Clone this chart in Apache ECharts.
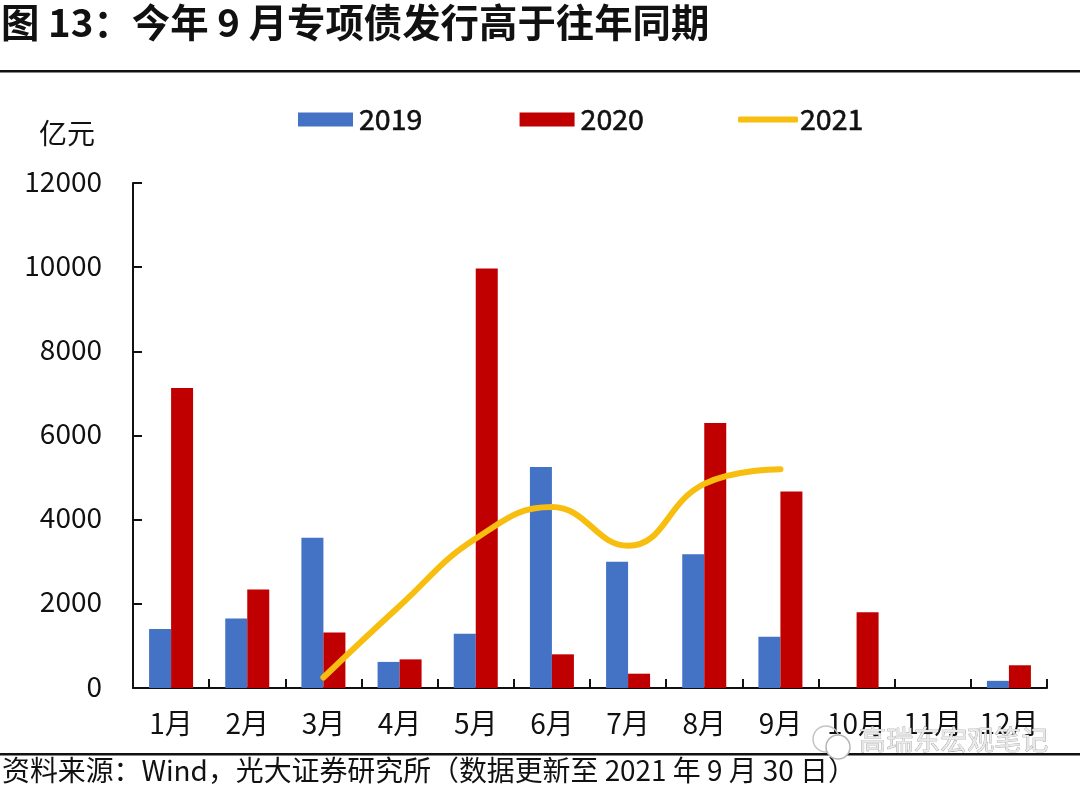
<!DOCTYPE html>
<html><head><meta charset="utf-8">
<style>html,body{margin:0;padding:0;background:#fff}#c{width:1080px;height:793px}</style>
<script src="https://cdn.jsdelivr.net/npm/echarts@6/dist/echarts.min.js"></script>
</head><body><div id="c"></div>
<script>
const months = ['1月','2月','3月','4月','5月','6月','7月','8月','9月','10月','11月','12月'];
const v2019 = [1400,1650,3570,620,1290,5250,3000,3180,1220,0,0,170];
const v2020 = [7130,2340,1320,680,9970,800,340,6300,4670,1800,0,540];
const v2021 = [null,null,250,1950,3550,4300,3380,4850,5200,null,null,null];
const titleText = '图 13：今年 9 月专项债发行高于往年同期';
const sourceText = '资料来源：Wind，光大证券研究所（数据更新至 2021 年 9 月 30 日）';
const watermark = '高瑞东宏观笔记';
const font = '"Noto Sans CJK SC"';
const chart = echarts.init(document.getElementById('c'));
const legendText = {fontFamily:font,fontSize:28.5,color:'#111',textBorderColor:'#111',textBorderWidth:0.6,padding:[0,0,0,1]};
chart.setOption({
  animation:false,
  textStyle:{fontFamily:font,color:'#111'},
  title:{text:titleText,left:-4,top:-2,textStyle:{fontFamily:font,fontSize:38.4,fontWeight:'bold',color:'#111'}},
  legend:[
    {left:293,top:100,itemWidth:55,itemHeight:14,itemGap:97,icon:'rect',textStyle:legendText,data:['2019','2020']},
    {left:733,top:100,itemWidth:60,itemHeight:6,icon:'roundRect',textStyle:{...legendText,padding:[0,0,0,-3]},data:['2021']}
  ],
  grid:{left:133,right:33,top:183,height:505},
  xAxis:{type:'category',data:months,
    axisLine:{lineStyle:{color:'#111',width:2}},
    axisTick:{show:true,inside:true,length:9,lineStyle:{color:'#111',width:2}},
    axisLabel:{fontSize:28,color:'#111',margin:21,interval:0}},
  yAxis:{type:'value',min:0,max:12000,interval:2000,name:'亿元',nameLocation:'end',nameGap:36,
    nameTextStyle:{fontSize:28,color:'#111',align:'right',padding:[0,38,0,0]},
    splitLine:{show:false},
    axisLine:{show:true,lineStyle:{color:'#111',width:2}},
    axisTick:{show:true,inside:true,length:9,lineStyle:{color:'#111',width:2}},
    axisLabel:{fontSize:28,color:'#111',margin:31,verticalAlign:'bottom',lineHeight:4,formatter:v=>String(v)}},
  series:[
    {name:'2019',type:'bar',data:v2019,barWidth:22,barGap:'0%',itemStyle:{color:'#4472C4'}},
    {name:'2020',type:'bar',data:v2020,barWidth:22,itemStyle:{color:'#C00000'}},
    {name:'2021',type:'line',data:v2021,smooth:0.45,symbol:'none',connectNulls:false,
      lineStyle:{color:'#F7BE0F',width:6,cap:'round'},itemStyle:{color:'#F7BE0F'}}
  ],
  graphic:[
    {type:'rect',shape:{x:0,y:70,width:1080,height:2.5},style:{fill:'#111'}},
    {type:'rect',shape:{x:0,y:753,width:1080,height:2.5},style:{fill:'#111'}},
    {type:'text',left:2,top:756,style:{text:sourceText,font:'27.9px '+font,fill:'#111'}},
    {type:'text',left:859,top:726,z:50,style:{text:watermark,font:'27px '+font,fill:'#e9e9e9',stroke:'#8a8a8a',lineWidth:0.6}},
    {type:'circle',z:50,shape:{cx:826,cy:739,r:13},style:{fill:'none',stroke:'#c4c4c4',lineWidth:1.5}},
    {type:'circle',z:50,shape:{cx:838,cy:747,r:12},style:{fill:'#fff',stroke:'#b4b4b4',lineWidth:1.5}}
  ]
});
</script></body></html>
